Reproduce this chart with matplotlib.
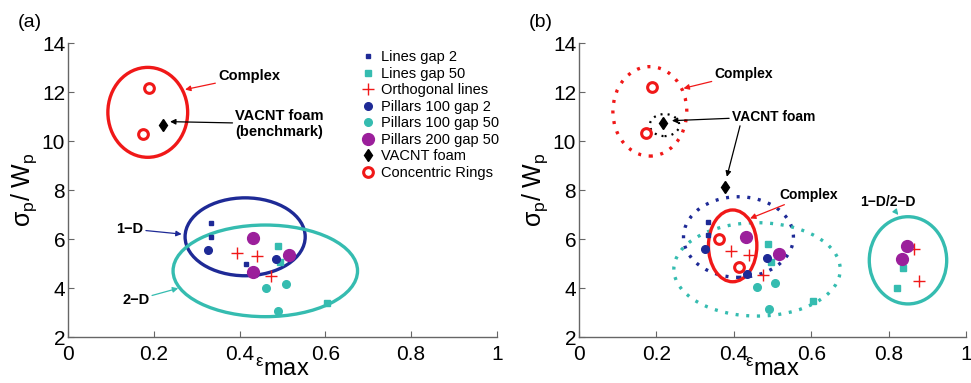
import matplotlib
matplotlib.use('Agg')
import matplotlib.pyplot as plt
from matplotlib.patches import Ellipse
from matplotlib.lines import Line2D

plt.rcParams['font.family'] = ['Liberation Sans', 'DejaVu Sans']
plt.rcParams['mathtext.fontset'] = 'custom'
plt.rcParams['mathtext.rm'] = 'Liberation Sans'
plt.rcParams['mathtext.it'] = 'Liberation Sans'
plt.rcParams['mathtext.default'] = 'regular'

# ---- panel (a) data ----
lines_gap2_a_x = [0.333, 0.333, 0.414]
lines_gap2_a_y = [6.64, 6.10, 4.98]
lines_gap50_a_x = [0.490, 0.495, 0.603]
lines_gap50_a_y = [5.73, 5.07, 3.40]
ortho_a_x = [0.393, 0.440, 0.473]
ortho_a_y = [5.44, 5.31, 4.49]
pil100g2_a_x = [0.327, 0.484, 0.435]
pil100g2_a_y = [5.55, 5.17, 4.60]
pil100g50_a_x = [0.461, 0.508, 0.490]
pil100g50_a_y = [3.99, 4.16, 3.06]
pil200g50_a_x = [0.432, 0.516, 0.432]
pil200g50_a_y = [6.03, 5.35, 4.64]
vacnt_a_x = [0.222]
vacnt_a_y = [10.65]
rings_a_x = [0.190, 0.176]
rings_a_y = [12.15, 10.29]

# ---- panel (b) data ----
lines_gap2_b_x = [0.333, 0.333, 0.414]
lines_gap2_b_y = [6.68, 6.15, 5.00]
lines_gap50_b_x = [0.489, 0.495, 0.605, 0.838, 0.821]
lines_gap50_b_y = [5.78, 5.07, 3.48, 4.82, 4.01]
ortho_b_x = [0.393, 0.439, 0.476, 0.866, 0.879]
ortho_b_y = [5.50, 5.35, 4.53, 5.59, 4.29]
pil100g2_b_x = [0.326, 0.486, 0.433]
pil100g2_b_y = [5.59, 5.21, 4.56]
pil100g50_b_x = [0.459, 0.507, 0.490]
pil100g50_b_y = [4.03, 4.22, 3.13]
pil200g50_b_x = [0.432, 0.518, 0.847, 0.834]
pil200g50_b_y = [6.09, 5.39, 5.71, 5.20]
vacnt_b_x = [0.216, 0.377]
vacnt_b_y = [10.72, 8.13]
rings_b_x = [0.189, 0.173, 0.361, 0.413]
rings_b_y = [12.22, 10.34, 5.99, 4.87]

# cluster outlines: centre x, centre y, width, height
ell_a_complex = (0.186, 11.17, 0.186, 3.67)
ell_a_1d = (0.413, 6.09, 0.280, 3.18)
ell_a_2d = (0.460, 4.70, 0.430, 3.74)
ell_b_complex = (0.183, 11.21, 0.191, 3.65)
ell_b_vacnt = (0.221, 10.65, 0.076, 0.90)
ell_b_1d = (0.412, 6.08, 0.284, 3.29)
ell_b_2d = (0.460, 4.76, 0.430, 3.81)
ell_b_complex2 = (0.397, 5.72, 0.125, 2.93)
ell_b_12d = (0.850, 5.13, 0.200, 3.56)

legend_labels = ['Lines gap 2', 'Lines gap 50', 'Orthogonal lines', 'Pillars 100 gap 2',
                 'Pillars 100 gap 50', 'Pillars 200 gap 50', 'VACNT foam', 'Concentric Rings']

navy = '#1e2a96'
teal = '#35bcb0'
purple = '#9b1f9b'
red = '#f01818'

styles = [
    dict(marker='s', color=navy, ms=3.2, ls='none'),
    dict(marker='s', color=teal, ms=3.8, ls='none'),
    dict(marker='+', color=red, ms=8, mew=1.0, ls='none'),
    dict(marker='o', color=navy, ms=5.5, ls='none'),
    dict(marker='o', color=teal, ms=5.5, ls='none'),
    dict(marker='o', color=purple, ms=8.5, ls='none'),
    dict(marker='d', color='black', ms=6, ls='none'),
    dict(marker='o', color=red, mfc='white', mew=2.2, ms=7, ls='none'),
]


def draw_points(ax, series):
    for (xs, ys), st in zip(series, styles):
        ax.plot(xs, ys, zorder=3, **st)


def draw_ellipse(ax, spec, color, dotted=False, lw=2.4):
    cx, cy, w, h = spec
    ls = (0, (0.9, 2.3)) if dotted else '-'
    e = Ellipse((cx, cy), w, h, fill=False, edgecolor=color, lw=lw, ls=ls, zorder=2)
    ax.add_patch(e)


def note(ax, text, xy, xytext, color, fs=10.5, ha='left'):
    ax.annotate(text, xy=xy, xytext=xytext, fontsize=fs, fontweight='bold', ha=ha, va='center',
                arrowprops=dict(arrowstyle='-|>', color=color, lw=0.9, mutation_scale=8,
                                shrinkA=0, shrinkB=0))


def style_axes(ax, label, lx):
    ax.set_xlim(0, 1)
    ax.set_ylim(2, 14)
    ax.set_xticks([0, 0.2, 0.4, 0.6, 0.8, 1])
    ax.set_xticklabels(['0', '0.2', '0.4', '0.6', '0.8', '1'])
    ax.set_yticks([2, 4, 6, 8, 10, 12, 14])
    ax.spines['top'].set_visible(False)
    ax.spines['right'].set_visible(False)
    for s in ['left', 'bottom']:
        ax.spines[s].set_color('#666666')
        ax.spines[s].set_linewidth(1.0)
    ax.tick_params(direction='in', length=4, color='#666666', labelsize=15)
    ax.tick_params(axis='x', pad=6)
    ax.tick_params(axis='y', pad=2)
    ax.set_xlabel(r'$^{\varepsilon}$max', fontsize=17, labelpad=-4)
    ax.set_ylabel(r'$\sigma_p$/ $W_p$', fontsize=18, labelpad=2)
    ax.text(lx, 1.07, label, transform=ax.transAxes, fontsize=14, ha='center', va='center')


fig = plt.figure(figsize=(9.71, 3.83), dpi=100)
ax1 = fig.add_axes([0.0700, 0.1201, 0.4418, 0.7676])
ax2 = fig.add_axes([0.5963, 0.1201, 0.3986, 0.7676])

# ---- (a) ----
draw_ellipse(ax1, ell_a_complex, red)
draw_ellipse(ax1, ell_a_1d, navy)
draw_ellipse(ax1, ell_a_2d, teal)
draw_points(ax1, [(lines_gap2_a_x, lines_gap2_a_y), (lines_gap50_a_x, lines_gap50_a_y),
                  (ortho_a_x, ortho_a_y), (pil100g2_a_x, pil100g2_a_y),
                  (pil100g50_a_x, pil100g50_a_y), (pil200g50_a_x, pil200g50_a_y),
                  (vacnt_a_x, vacnt_a_y), (rings_a_x, rings_a_y)])
note(ax1, 'Complex', (0.273, 12.10), (0.350, 12.65), red)
note(ax1, 'VACNT foam\n(benchmark)', (0.238, 10.79), (0.390, 10.70), 'black')
note(ax1, '1\u2212D', (0.265, 6.20), (0.112, 6.41), navy)
note(ax1, '2\u2212D', (0.257, 3.99), (0.126, 3.51), teal)
style_axes(ax1, '(a)', -0.089)

handles = [Line2D([], [], **st) for st in styles]
ax1.legend(handles, legend_labels, loc='upper left', bbox_to_anchor=(0.683, 0.975),
           frameon=False, fontsize=10.5, handlelength=1.0, handletextpad=0.35,
           labelspacing=0.17, borderpad=0, borderaxespad=0)

# ---- (b) ----
draw_ellipse(ax2, ell_b_complex, red, dotted=True)
draw_ellipse(ax2, ell_b_vacnt, 'black', dotted=True, lw=1.6)
draw_ellipse(ax2, ell_b_1d, navy, dotted=True)
draw_ellipse(ax2, ell_b_2d, teal, dotted=True)
draw_points(ax2, [(lines_gap2_b_x, lines_gap2_b_y), (lines_gap50_b_x, lines_gap50_b_y),
                  (ortho_b_x, ortho_b_y), (pil100g2_b_x, pil100g2_b_y),
                  (pil100g50_b_x, pil100g50_b_y), (pil200g50_b_x, pil200g50_b_y),
                  (vacnt_b_x, vacnt_b_y), (rings_b_x, rings_b_y)])
draw_ellipse(ax2, ell_b_complex2, red)
draw_ellipse(ax2, ell_b_12d, teal)
note(ax2, 'Complex', (0.270, 12.15), (0.350, 12.75), red, fs=10)
note(ax2, 'VACNT foam', (0.240, 10.83), (0.395, 11.00), 'black', fs=10)
ax2.annotate('', xy=(0.382, 8.54), xytext=(0.416, 10.62),
             arrowprops=dict(arrowstyle='-|>', color='black', lw=0.9, mutation_scale=8,
                             shrinkA=0, shrinkB=0))
note(ax2, 'Complex', (0.442, 6.84), (0.518, 7.80), red, fs=10)
note(ax2, '1\u2212D/2\u2212D', (0.825, 6.98), (0.726, 7.52), teal, fs=10)
style_axes(ax2, '(b)', -0.098)

fig.savefig('out.png', dpi=100)
